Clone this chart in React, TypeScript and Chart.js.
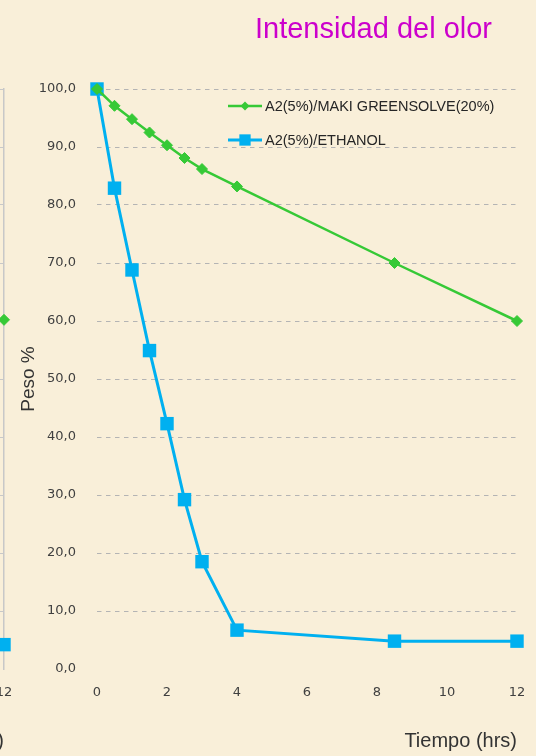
import React, { useEffect, useRef } from 'react';
import { Chart, registerables } from 'chart.js';

Chart.register(...registerables);

// ---------- data ----------
const timeHours = [0, 0.5, 1, 1.5, 2, 2.5, 3, 4, 8.5, 12];
const greensolveWeight = [100, 97.1, 94.8, 92.5, 90.3, 88.1, 86.2, 83.2, 70.0, 60.0];
const ethanolWeight = [100, 82.9, 68.8, 54.9, 42.3, 29.2, 18.5, 6.7, 4.8, 4.8];
const seriesLabels = ['A2(5%)/MAKI GREENSOLVE(20%)', 'A2(5%)/ETHANOL'];
const xTickValues = [0, 2, 4, 6, 8, 10, 12];
const yTickValues = [0, 10, 20, 30, 40, 50, 60, 70, 80, 90, 100];

// partially visible neighbouring chart (only its last points show at the left edge)
const leftTimeHours = [12];
const leftGreensolveWeight = [60.2];
const leftEthanolWeight = [4.2];

const chartTitle = 'Intensidad del olor';
const xTitle = 'Tiempo (hrs)';
const yTitle = 'Peso %';

// ---------- styles ----------
const GREEN = '#36c936';
const CYAN = '#00b0f0';
const BG = '#f9efd9';
const TICK_COLOR = '#404040';
const GRID_COLOR = '#b4b4b4';
const TICK_FONT = { family: '"DejaVu Sans", sans-serif', size: 13 };
const TITLE_FAMILY = '"Liberation Sans", Arial, sans-serif';

const toPoints = (xs: number[], ys: number[]) => xs.map((x, i) => ({ x, y: ys[i] }));

const legendLayout = { lineStart: 228, lineEnd: 262, textX: 265, rows: [106, 140], markerR: [4.5, 8] };

const insideLegend = {
  id: 'insideLegend',
  afterDraw(chart: any) {
    const ctx = chart.ctx as CanvasRenderingContext2D;
    ctx.save();
    chart.data.datasets.forEach((ds: any, i: number) => {
      const y = legendLayout.rows[i];
      const cx = (legendLayout.lineStart + legendLayout.lineEnd) / 2;
      ctx.strokeStyle = ds.borderColor;
      ctx.lineWidth = ds.borderWidth;
      ctx.beginPath();
      ctx.moveTo(legendLayout.lineStart, y);
      ctx.lineTo(legendLayout.lineEnd, y);
      ctx.stroke();
      ctx.fillStyle = ds.pointBackgroundColor;
      const r = legendLayout.markerR[i];
      ctx.beginPath();
      if (ds.pointStyle === 'rectRot') {
        ctx.moveTo(cx, y - r);
        ctx.lineTo(cx + r, y);
        ctx.lineTo(cx, y + r);
        ctx.lineTo(cx - r, y);
        ctx.closePath();
      } else {
        const s = r * Math.SQRT1_2;
        ctx.rect(cx - s, y - s, 2 * s, 2 * s);
      }
      ctx.fill();
      ctx.fillStyle = '#262626';
      ctx.font = '14.5px "Liberation Sans", Arial, sans-serif';
      ctx.textBaseline = 'middle';
      ctx.textAlign = 'left';
      ctx.fillText(ds.label, legendLayout.textX, y + 1);
    });
    ctx.restore();
  },
};

function makeDatasets(greenYs: number[], cyanYs: number[], xs: number[]) {
  return [
    {
      label: seriesLabels[0],
      data: toPoints(xs, greenYs),
      borderColor: GREEN,
      backgroundColor: GREEN,
      pointBackgroundColor: GREEN,
      pointBorderColor: GREEN,
      borderWidth: 2.5,
      pointStyle: 'rectRot',
      pointRadius: 5.5,
      pointBorderWidth: 1,
      tension: 0,
      clip: false,
    },
    {
      label: seriesLabels[1],
      data: toPoints(xs, cyanYs),
      borderColor: CYAN,
      backgroundColor: CYAN,
      pointBackgroundColor: CYAN,
      pointBorderColor: CYAN,
      borderWidth: 3,
      pointStyle: 'rect',
      pointRadius: 9.5,
      pointBorderWidth: 0,
      tension: 0,
      clip: false,
    },
  ];
}

function xScale() {
  return {
    type: 'linear',
    min: 0,
    max: 12,
    afterBuildTicks: (s: any) => {
      s.ticks = xTickValues.map((v) => ({ value: v }));
    },
    grid: { display: false, drawTicks: true, tickLength: 13 },
    border: { display: false },
    ticks: { font: TICK_FONT, color: TICK_COLOR, padding: 3, maxRotation: 0, autoSkip: false },
    title: {
      display: true,
      text: xTitle,
      align: 'end',
      color: '#333333',
      font: { family: TITLE_FAMILY, size: 20 },
      padding: { top: 0, bottom: 3 },
    },
    afterFit: (s: any) => {
      s.height = 87;
    },
  };
}

export default function App() {
  const mainRef = useRef<HTMLCanvasElement>(null);
  const leftRef = useRef<HTMLCanvasElement>(null);

  useEffect(() => {
    const left = new Chart(leftRef.current as HTMLCanvasElement, {
      type: 'line',
      data: { datasets: makeDatasets(leftGreensolveWeight, leftEthanolWeight, leftTimeHours) as any },
      options: {
        responsive: false,
        animation: false,
        layout: { padding: { top: 89, right: 16, bottom: 0, left: 0 } },
        plugins: { legend: { display: false }, tooltip: { enabled: false } },
        scales: {
          x: xScale() as any,
          y: {
            min: 0,
            max: 100,
            afterBuildTicks: (s: any) => {
              s.ticks = yTickValues.map((v) => ({ value: v }));
            },
            ticks: { display: false },
            grid: {
              drawTicks: false,
              color: (c: any) => (c.tick && c.tick.value === 0 ? 'rgba(0,0,0,0)' : '#c8c8c8'),
            },
            border: { display: false },
            afterFit: (s: any) => {
              s.width = 60;
            },
          },
          yr: {
            position: 'right',
            min: 0,
            max: 100,
            ticks: { display: false },
            grid: { display: false, drawTicks: false },
            border: { display: true, color: '#c8c8c8', width: 1.5 },
            afterFit: (s: any) => {
              s.width = 0;
            },
          },
        },
      } as any,
    });

    const main = new Chart(mainRef.current as HTMLCanvasElement, {
      type: 'line',
      data: { datasets: makeDatasets(greensolveWeight, ethanolWeight, timeHours) as any },
      options: {
        responsive: false,
        animation: false,
        layout: { padding: { top: 89, right: 19, bottom: 0, left: 0 } },
        plugins: { legend: { display: false }, tooltip: { enabled: false } },
        scales: {
          x: xScale() as any,
          y: {
            min: 0,
            max: 100,
            afterBuildTicks: (s: any) => {
              s.ticks = yTickValues.map((v) => ({ value: v }));
            },
            ticks: {
              font: TICK_FONT,
              color: TICK_COLOR,
              padding: 21,
              callback: (v: any) => Number(v).toFixed(1).replace('.', ','),
            },
            grid: {
              drawTicks: false,
              lineWidth: 1,
              color: (c: any) => (c.tick && c.tick.value === 0 ? 'rgba(0,0,0,0)' : GRID_COLOR),
            },
            border: { display: false, dash: [4.5, 4.5] },
            title: {
              display: true,
              text: yTitle,
              color: '#333333',
              font: { family: TITLE_FAMILY, size: 19 },
              padding: { top: 17, bottom: 0 },
            },
            afterFit: (s: any) => {
              s.width = 97;
            },
          },
        },
      } as any,
      plugins: [insideLegend],
    });

    return () => {
      left.destroy();
      main.destroy();
    };
  }, []);

  return (
    <div
      style={{
        position: 'absolute',
        left: 0,
        top: 0,
        width: 536,
        height: 756,
        overflow: 'hidden',
        background: BG,
      }}
    >
      <canvas
        ref={leftRef}
        width={320}
        height={756}
        style={{ position: 'absolute', left: -300, top: 0, display: 'block' }}
      />
      <canvas
        ref={mainRef}
        width={536}
        height={756}
        style={{ position: 'absolute', left: 0, top: 0, display: 'block' }}
      />
      <div
        style={{
          position: 'absolute',
          left: 0,
          top: 12,
          width: 492,
          textAlign: 'right',
          fontFamily: TITLE_FAMILY,
          fontSize: 29,
          lineHeight: '33px',
          color: '#cc00cc',
          whiteSpace: 'nowrap',
        }}
      >
        {chartTitle}
      </div>
    </div>
  );
}
